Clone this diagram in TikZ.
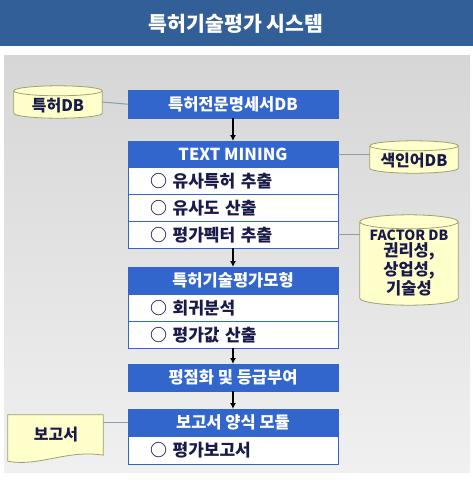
\documentclass[tikz,border=0pt]{standalone}
\usepackage{fontspec}
\setmainfont{Noto Sans CJK KR}
\usetikzlibrary{calc,arrows.meta}
\definecolor{titleblue}{HTML}{325F97}
\definecolor{hblue}{HTML}{3366CC}
\definecolor{navy}{HTML}{1A1A4A}
\definecolor{dbfill}{HTML}{FFFFCC}
\definecolor{dbline}{HTML}{A0A070}
\definecolor{conn}{HTML}{8C9CAC}
\definecolor{panTop}{HTML}{D6D6D6}
\definecolor{panBot}{HTML}{F0F0F0}
\pgfdeclarelayer{bg}
\pgfsetlayers{bg,main}
\newcommand\drawcyl[2]{%
  \begin{pgfonlayer}{bg}
  \filldraw[cylshape] let \p1=(#1.north west), \p2=(#1.south east), \n1={(\x2-\x1)/2} in
    (\x1,\y1-#2) -- (\x1,\y2+#2)
    arc[start angle=180,end angle=360,x radius=\n1,y radius=#2pt]
    -- (\x2,\y1-#2)
    arc[start angle=0,end angle=180,x radius=\n1,y radius=#2pt] -- cycle
    (\x1,\y1-#2) arc[start angle=180,end angle=540,x radius=\n1,y radius=#2pt];
  \end{pgfonlayer}}
\begin{document}
\begin{tikzpicture}[x=1pt,y=-1pt,
  hdr/.style={fill=hblue,draw=hblue,text=white,font=\fontsize{16.5}{18}\selectfont\bfseries,
    minimum width=210pt,inner sep=0pt,anchor=north},
  rowbox/.style={fill=white,draw=hblue,text=navy,font=\fontsize{17}{19}\selectfont\bfseries,
    minimum width=210pt,minimum height=27pt,inner ysep=0pt,inner xsep=22pt,
    text width=166pt,align=left,anchor=north},
  dbtext/.style={inner sep=0pt,text=navy,font=\fontsize{16}{17}\selectfont\bfseries,align=center},
  cylshape/.style={fill=dbfill,draw=dbline,line width=0.8pt},
  connline/.style={draw=conn,line width=1pt},
  flow/.style={draw=black,line width=1.6pt,-{Latex[length=6pt,width=6pt]}}]
\useasboundingbox (0,0) rectangle (473,480);
% title and panel
\fill[titleblue] (0,0) rectangle (473,46);
\node[text=white,font=\fontsize{20.5}{22}\selectfont\bfseries] (title) at (236,24) {특허기술평가 시스템};
\begin{pgfonlayer}{bg}
\shade[top color=panTop,bottom color=panBot] (4,55) rectangle (470,472);
\end{pgfonlayer}
% main column
\node[hdr,minimum height=28pt] (spec) at (233,90) {특허전문명세서DB};
\node[hdr,minimum height=26pt] (tm) at (233,141) {TEXT MINING};
\node[rowbox] (tm1) at (233,167) {○ 유사특허 추출};
\node[rowbox] (tm2) at (233,194) {○ 유사도 산출};
\node[rowbox] (tm3) at (233,221) {○ 평가펙터 추출};
\node[hdr,minimum height=27pt] (md) at (233,267) {특허기술평가모형};
\node[rowbox] (md1) at (233,294) {○ 회귀분석};
\node[rowbox] (md2) at (233,321) {○ 평가값 산출};
\node[hdr,minimum height=27pt] (sc) at (233,364) {평점화 및 등급부여};
\node[hdr,minimum height=27pt] (rp) at (233,409) {보고서 양식 모듈};
\node[rowbox,minimum height=28pt] (rp1) at (233,436) {○ 평가보고서};
% databases
\node[dbtext,minimum width=88pt,minimum height=32pt] (pdb) at (58,102) {};
\node[dbtext] (pdbt) at (58,106) {특허DB};
\drawcyl{pdb}{5}
\node[dbtext,minimum width=88pt,minimum height=32pt] (idx) at (414,157) {};
\node[dbtext] (idxt) at (414,161) {색인어DB};
\drawcyl{idx}{5}
\node[dbtext,minimum width=98pt,minimum height=90pt] (fdb) at (409,260) {};
\node[dbtext,font=\fontsize{16.5}{16}\selectfont\bfseries] (fdbt) at (409,263)
  {{\fontsize{14}{16}\selectfont FACTOR DB}\\권리성,\\상업성,\\기술성};
\drawcyl{fdb}{7}
% report document
\node[inner sep=0pt,minimum width=95pt,minimum height=40pt] (doc) at (55.5,435) {};
\node[dbtext] (doct) at (56,435) {보고서};
\begin{pgfonlayer}{bg}
\filldraw[cylshape] (doc.north west) -- ($(doc.south west)+(0,6)$)
  .. controls ($(doc.south west)+(30,12)$) and ($(doc.south east)+(-35,-6)$) .. ($(doc.south east)+(0,0)$)
  -- (doc.north east) -- cycle;
\end{pgfonlayer}
% connectors
\draw[connline] (pdb.east) -- (spec.west);
\draw[connline] (tm.east) -- (tm.east -| idx.west);
\draw[connline] (tm3.east) -- (tm3.east -| fdb.west);
\draw[connline] (rp.west) -- (rp.west -| doc.east);
\draw[flow] (spec.south) -- (tm.north);
\draw[flow] (tm3.south) -- (md.north);
\draw[flow] (md2.south) -- (sc.north);
\draw[flow] (sc.south) -- (rp.north);
\end{tikzpicture}
\end{document}
